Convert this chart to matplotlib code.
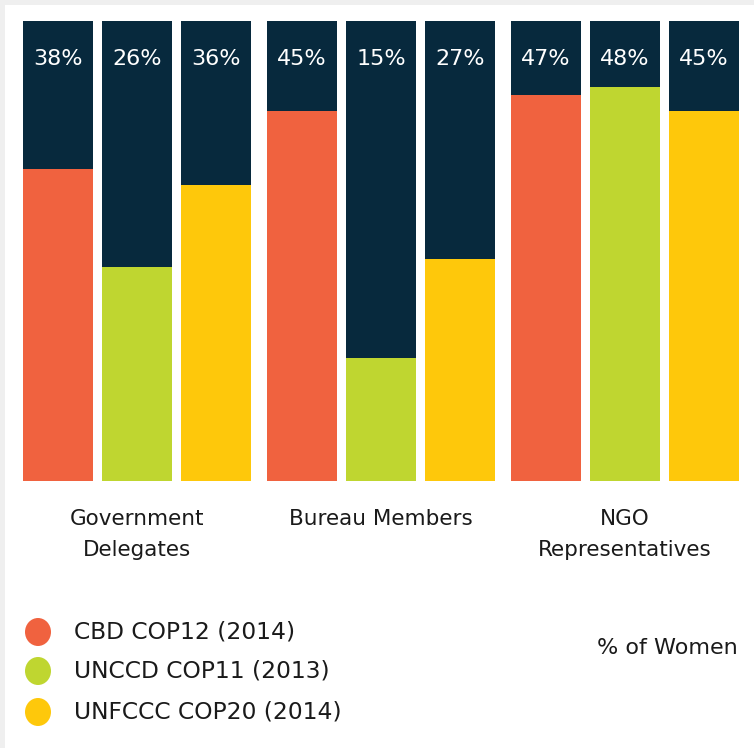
import numpy as np
import matplotlib.pyplot as plt
from matplotlib.patches import Rectangle, Ellipse

# Share of women at three UN conventions' COPs
groups = ["Government\nDelegates", "Bureau Members", "NGO\nRepresentatives"]
series = ["CBD COP12 (2014)", "UNCCD COP11 (2013)", "UNFCCC COP20 (2014)"]
pct = np.array([[38, 26, 36],
                [45, 15, 27],
                [47, 48, 45]])
full = 56  # full column height in the original graphic

colors = ["#f0623f", "#bfd630", "#fec80b"]
navy = "#07293d"

W, H = 754, 748
fig = plt.figure(figsize=(W / 100, H / 100), dpi=100, facecolor="#efefef")
fig.patches.append(Rectangle((5 / W, 0), 1, 1 - 5 / H, transform=fig.transFigure,
                             facecolor="white", edgecolor="none", zorder=-5))

# bar axes placed in pixel coordinates
ax = fig.add_axes([23 / W, 1 - 481 / H, 716 / W, 460 / H])
ax.set_zorder(2)
ax.set_facecolor("none")
width = 0.883
gstep = 3.08
for g in range(len(groups)):
    for i in range(len(series)):
        x = g * gstep + i
        ax.bar(x, full, width=width, color=navy)
        ax.bar(x, pct[g, i], width=width, color=colors[i])
        ax.text(x, full - 4.6, f"{pct[g, i]}%", color="white", fontsize=16,
                ha="center", va="center")
    ax.text(g * gstep + 1, -3.4, groups[g], fontsize=15.5, ha="center", va="top",
            color="#1a1a1a", linespacing=1.7)
ax.set_xlim(-width / 2, 2 * gstep + 2 + width / 2)
ax.set_ylim(0, full)
ax.axis("off")

# legend
leg_y = [632, 671, 712]
for i, s in enumerate(series):
    fy = 1 - leg_y[i] / H
    fig.patches.append(Ellipse((38 / W, fy), 26 / W, 28 / H, transform=fig.transFigure,
                               facecolor=colors[i], edgecolor="none"))
    fig.text(74 / W, fy, s, fontsize=16.8, va="center", ha="left", color="#1a1a1a")

fig.text(738 / W, 1 - 648 / H, "% of Women", fontsize=16, va="center", ha="right",
         color="#1a1a1a")

fig.savefig("out.png", dpi=100, facecolor=fig.get_facecolor())
